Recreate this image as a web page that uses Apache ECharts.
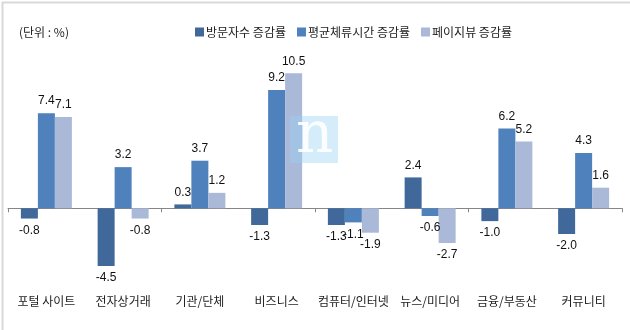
<!DOCTYPE html>
<html><head><meta charset="utf-8">
<script src="https://cdn.jsdelivr.net/npm/echarts@6/dist/echarts.min.js"></script>
<style>html,body{margin:0;padding:0;background:#fff}#c{width:630px;height:330px}</style>
</head><body><div id="c"></div>
<script>
const categories = ['포털 사이트','전자상거래','기관/단체','비즈니스','컴퓨터/인터넷','뉴스/미디어','금융/부동산','커뮤니티'];
const seriesNames = ['방문자수 증감률','평균체류시간 증감률','페이지뷰 증감률'];
const visitors = [-0.8,-4.5,0.3,-1.3,-1.3,2.4,-1.0,-2.0];
const stayTime = [7.4,3.2,3.7,9.2,-1.1,-0.6,6.2,4.3];
const pageViews = [7.1,-0.8,1.2,10.5,-1.9,-2.7,5.2,1.6];
const colors = ['#41689a','#4f81bd','#aab9d7'];
const font = '"Noto Sans CJK KR", sans-serif';

function mk(vals){
  return vals.map(v => ({value: v, label: {position: v < 0 ? 'bottom' : 'top'}}));
}
const allVals = [visitors, stayTime, pageViews];
const chart = echarts.init(document.getElementById('c'));
chart.setOption({
  animation: false,
  color: colors,
  title: {text: '(단위 : %)', left: 14, top: 21, textStyle: {fontFamily: font, fontSize: 12, fontWeight: 'normal', color: '#222'}},
  legend: {data: seriesNames, left: 190, top: 21, itemWidth: 9, itemHeight: 9, itemGap: 11, icon: 'rect',
    textStyle: {fontFamily: font, fontSize: 12, color: '#222', padding: [0,0,0,-3]}},
  grid: {left: 8, right: 8, top: 54, bottom: 44.6, outerBoundsMode: 'none', containLabel: false},
  xAxis: [
    {type: 'category', data: categories,
      axisLine: {onZero: true, lineStyle: {color: '#868686', width: 1}},
      axisTick: {show: true, length: 4, lineStyle: {color: '#868686'}},
      axisLabel: {show: false}},
    {type: 'category', data: categories, position: 'bottom',
      axisLine: {show: false, onZero: false}, axisTick: {show: false},
      axisLabel: {margin: 10, fontFamily: font, fontSize: 12, color: '#222', interval: 0}}
  ],
  yAxis: {type: 'value', min: -6, max: 12, show: false, splitLine: {show: false}},
  series: allVals.map((vals, i) => ({
    name: seriesNames[i], type: 'bar', data: mk(vals), barWidth: 17, barGap: '0%',
    label: {show: true, distance: 6, fontFamily: 'Liberation Sans, Arial, sans-serif', fontSize: 12, color: '#111',
      formatter: p => p.value.toFixed(1)}
  })),
  graphic: [
    {type: 'rect', left: 290, top: 116, shape: {width: 48, height: 47}, style: {fill: 'rgba(150,210,245,0.4)'}, z: 100},
    {type: 'text', left: 296, top: 108, style: {text: 'n', fill: 'rgba(255,255,255,0.9)', font: '58px "DejaVu Serif", serif'}, z: 101},
    {type: 'rect', left: 0, top: 0, shape: {width: 629, height: 329}, style: {fill: 'none', stroke: '#d9d9d9', lineWidth: 2}, z: 102}
  ]
});
</script></body></html>
